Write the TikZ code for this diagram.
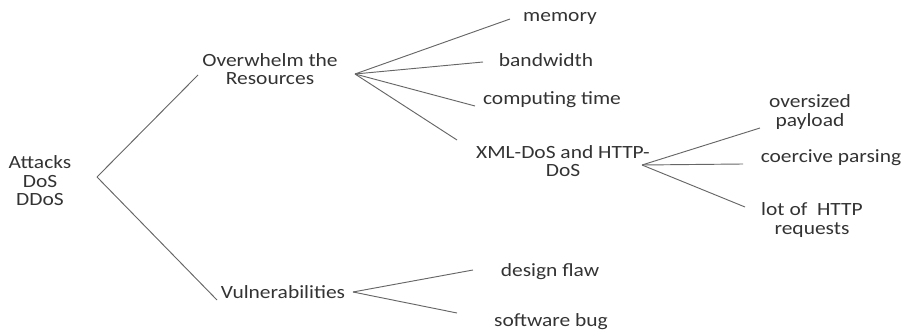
\documentclass[tikz,border=0pt]{standalone}
\usepackage{fontspec}
\setmainfont[FakeStretch=1.15]{Carlito}
\tikzset{
  leaf/.style={inner sep=0pt, align=center, text=black!80, font=\fontsize{14}{13.9}\selectfont},
  link/.style={draw=black!60, line width=0.7pt}
}

\begin{document}
\begin{tikzpicture}[x=0.75pt,y=-0.75pt]
	\useasboundingbox (0,0) rectangle (907,334);

	% tree nodes
	\node[leaf] (root) at (40,181) {Attacks\\DoS\\DDoS};
	\node[leaf] (over) at (270,69) {Overwhelm the\\Resources};
	\node[leaf] (vuln) at (283,292) {Vulnerabilities};
	\node[leaf] (mem) at (560,18) {memory};
	\node[leaf] (band) at (546,60) {bandwidth};
	\node[leaf] (comp) at (552,100) {computing time};
	\node[leaf] (xml) at (563,161) {XML-DoS and HTTP-\\DoS};
	\node[leaf] (size) at (810,112) {oversized\\payload};
	\node[leaf] (parse) at (831,158) {coercive parsing};
	\node[leaf] (http) at (812,220) {lot of\ \ HTTP\\requests};
	\node[leaf] (flaw) at (550,272) {design flaw};
	\node[leaf] (bug) at (551,322) {software bug};

	% joints and line ends
	\coordinate (jRoot) at (97,177);
	\coordinate (jOver) at (355,74);
	\coordinate (jXml) at (642,165);
	\coordinate (jVuln) at (353,292);
	\coordinate (eOver) at (198,75);
	\coordinate (eVuln) at (217,300);
	\coordinate (eMem) at (510,19);
	\coordinate (eBand) at (483,62);
	\coordinate (eComp) at (475,106);
	\coordinate (eXml) at (457,140);
	\coordinate (eSize) at (760,128);
	\coordinate (eParse) at (743,164);
	\coordinate (eHttp) at (745,207);
	\coordinate (eFlaw) at (473,270);
	\coordinate (eBug) at (457,313);

	\path (jRoot) edge [link] (eOver);
	\path (jRoot) edge [link] (eVuln);
	\path (jOver) edge [link] (eMem);
	\path (jOver) edge [link] (eBand);
	\path (jOver) edge [link] (eComp);
	\path (jOver) edge [link] (eXml);
	\path (jXml) edge [link] (eSize);
	\path (jXml) edge [link] (eParse);
	\path (jXml) edge [link] (eHttp);
	\path (jVuln) edge [link] (eFlaw);
	\path (jVuln) edge [link] (eBug);
\end{tikzpicture}
\end{document}
